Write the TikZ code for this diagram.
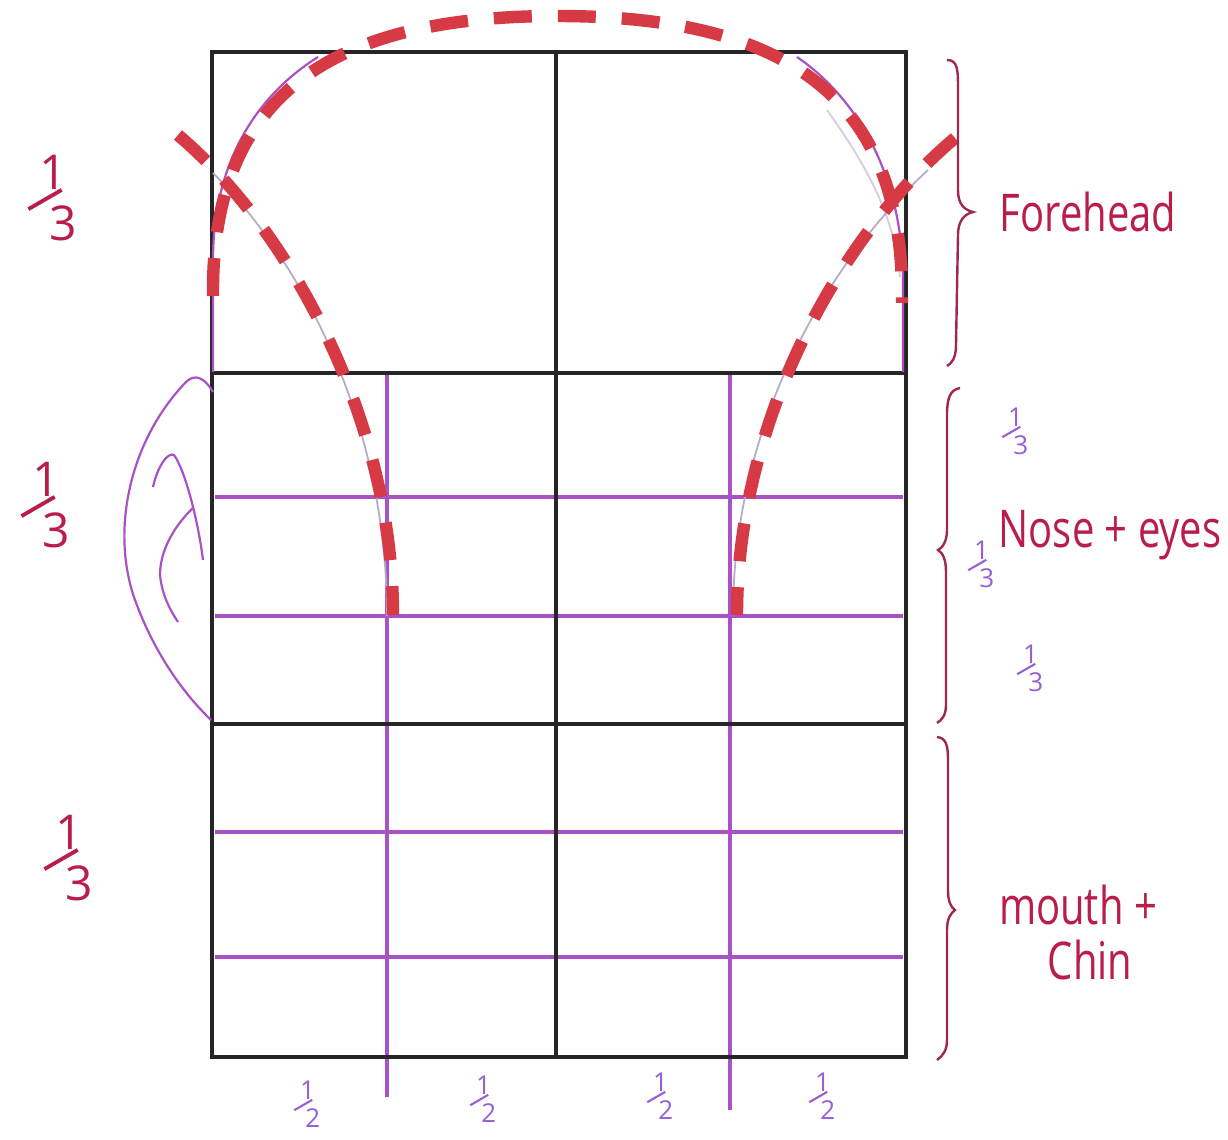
\documentclass[tikz,border=0pt]{standalone}
\usepackage{graphicx}
\usepackage{fontspec}
\setmainfont{Open Sans}
\definecolor{redc}{RGB}{214,58,69}
\definecolor{pgc}{RGB}{168,82,198}
\definecolor{pfr}{RGB}{150,95,215}
\definecolor{maroon}{RGB}{185,30,75}
\definecolor{bracec}{RGB}{160,40,80}
\definecolor{guide}{RGB}{185,170,205}
\newcommand{\hfr}[2]{\begin{tabular}{@{}l@{}}\hspace{.25em}#1\\[-.55em]\rotatebox{30}{\rule{.8em}{.08em}}\\[-.4em]\hspace{.45em}#2\end{tabular}}
\begin{document}
\begin{tikzpicture}[x=0.5pt,y=-0.5pt,
  blk/.style={line width=1.75pt,draw=black!85},
  pgrid/.style={line width=1.8pt,draw=pgc},
  pthin/.style={line width=1.1pt,draw=pgc},
  guideline/.style={line width=0.9pt,draw=guide},
  rdash/.style={line width=6.2pt,draw=redc,dash pattern=on 19pt off 13pt},
  bracepath/.style={line width=1.2pt,draw=bracec},
  lbl/.style={text=maroon,inner sep=0pt},
  bigfr/.style={text=maroon,inner sep=0pt,font=\fontsize{24}{24}\selectfont},
  smallfr/.style={text=pfr,inner sep=0pt,font=\fontsize{13}{13}\selectfont}]
\useasboundingbox (0,0) rectangle (1228,1140);
\fill[white] (0,0) rectangle (1228,1140);
% purple grid
\foreach \yy in {497,616,832,957} \draw[pgrid] (215,\yy) -- (903,\yy);
\draw[pgrid] (387,373) -- (387,1097);
\draw[pgrid] (730,373) -- (730,1110);
% black grid
\draw[blk] (212,52) rectangle (906,1057);
\draw[blk] (212,373) -- (906,373);
\draw[blk] (212,724) -- (906,724);
\draw[blk] (556,52) -- (556,1057);
% thin purple head contour
\draw[pthin] (318,57) .. controls (250,100) and (213,170) .. (213,260) -- (213,372);
\draw[pthin] (797,57) .. controls (860,100) and (903,180) .. (903,280) -- (903,372);
% guide lines
\draw[guideline] (213,173) .. controls (300,260) and (387,420) .. (387,616);
\draw[guideline] (928,170) .. controls (830,260) and (733,420) .. (733,615);
\draw[guideline,draw opacity=0.6] (827,110) .. controls (870,170) and (895,220) .. (900,277);
% ear
\draw[pthin] (213,392) .. controls (205,378) and (195,373) .. (186,382) .. controls (130,440) and (110,530) .. (135,600) .. controls (155,655) and (185,695) .. (211,720);
\draw[pthin] (153,487) .. controls (158,465) and (168,452) .. (174,455) .. controls (185,470) and (198,520) .. (203,560);
\draw[pthin] (193,508) .. controls (175,525) and (160,550) .. (160,575) .. controls (162,595) and (170,610) .. (178,622);
% red dashed
\draw[rdash] (213,296) .. controls (211,100) and (325,16) .. (557,16) .. controls (790,16) and (905,100) .. (902,303);
\draw[rdash] (178,135) .. controls (290,230) and (393,420) .. (393,615);
\draw[rdash] (955,138) .. controls (840,235) and (737,420) .. (737,615);
% braces
\draw[bracepath] (947,60) .. controls (958,60) and (958,70) .. (958,90) -- (958,190) .. controls (958,205) and (965,210) .. (973,212) .. controls (965,214) and (958,220) .. (958,235) -- (956,345) .. controls (956,358) and (952,363) .. (947,366);
\draw[bracepath] (960,388) .. controls (950,390) and (947,398) .. (947,415) -- (947,530) .. controls (947,542) and (942,548) .. (938,550) .. controls (943,553) and (946,560) .. (946,572) -- (946,705) .. controls (946,715) and (942,720) .. (937,723);
\draw[bracepath] (937,737) .. controls (946,738) and (948,745) .. (948,760) -- (948,890) .. controls (948,902) and (951,907) .. (955,910) .. controls (951,913) and (947,918) .. (947,930) -- (947,1040) .. controls (947,1050) and (943,1056) .. (937,1060);
% labels
\node[lbl,font=\fontsize{20}{20}\selectfont] (forehead) at (1088,212) {\scalebox{1}[1.3]{Forehead}};
\node[lbl,font=\fontsize{20}{20}\selectfont] (noseeyes) at (1110,535) {\scalebox{1}[1.3]{Nose + eyes}};
\node[lbl,font=\fontsize{20}{20}\selectfont] (mouth) at (1078,905) {\scalebox{1}[1.3]{mouth +}};
\node[lbl,font=\fontsize{20}{20}\selectfont] (chin) at (1090,960) {\scalebox{1}[1.3]{Chin}};
% left fractions
\node[bigfr] (fa) at (52,205) {\hfr{1}{3}};
\node[bigfr] (fb) at (45,512) {\hfr{1}{3}};
\node[bigfr] (fc) at (68,865) {\hfr{1}{3}};
% small purple fractions
\node[smallfr] (sa) at (1015,435) {\hfr{1}{3}};
\node[smallfr] (sb) at (981,568) {\hfr{1}{3}};
\node[smallfr] (sc) at (1030,672) {\hfr{1}{3}};
\node[smallfr] (ha) at (307,1108) {\hfr{1}{2}};
\node[smallfr] (hb) at (483,1103) {\hfr{1}{2}};
\node[smallfr] (hc) at (660,1100) {\hfr{1}{2}};
\node[smallfr] (hd) at (822,1100) {\hfr{1}{2}};
\end{tikzpicture}
\end{document}
